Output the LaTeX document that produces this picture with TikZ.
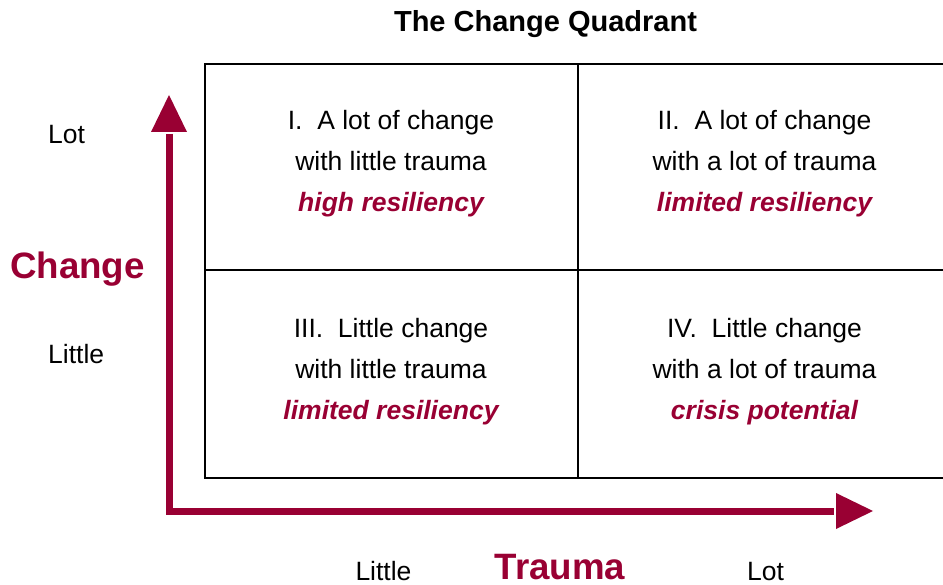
\documentclass[tikz,border=0pt]{standalone}
\usepackage{fontspec}
\setmainfont{Liberation Sans}
\definecolor{wine}{HTML}{990033}
\tikzset{
  grid/.style={line width=2.5pt, draw=black},
  axis/.style={line width=7pt, draw=wine, line join=miter},
  head/.style={fill=wine, draw=none},
  body/.style={font=\fontsize{26.5}{30}\selectfont, anchor=base, inner sep=0pt},
  verdict/.style={body, font=\fontsize{26.5}{30}\selectfont\bfseries\itshape, text=wine},
  title/.style={font=\fontsize{29}{34}\selectfont\bfseries, anchor=base, inner sep=0pt},
  axislabel/.style={font=\fontsize{36.7}{44}\selectfont\bfseries, text=wine, anchor=base, inner sep=0pt},
  level/.style={font=\fontsize{26.5}{30}\selectfont, anchor=base, inner sep=0pt}
}
\begin{document}
\begin{tikzpicture}[x=1pt,y=-1pt]
\clip (0,0) rectangle (943,585);

% quadrant grid (open to the right)
\draw[grid] (205,64) rectangle (955,478);
\draw[grid] (578,64) -- (578,478);
\draw[grid] (205,270) -- (955,270);

% axes
\coordinate (ytip) at (169,95);
\coordinate (origin) at (169,511);
\coordinate (xtip) at (873,511);
\draw[axis] (169,134) -- (origin) -- (834,511);
\fill[head] (ytip) -- (151,132) -- (187,132) -- cycle;
\fill[head] (xtip) -- (836,493) -- (836,529) -- cycle;

% title
\node[title] (ttl) at (545.5,31.5) {The Change Quadrant};

% quadrant I
\node[body] (q1a) at (391,129.5) {I.\ \ A lot of change};
\node[body] (q1b) at (391,170.5) {with little trauma};
\node[verdict] (q1c) at (391,211.5) {high resiliency};
% quadrant II
\node[body] (q2a) at (764.5,129.5) {II.\ \ A lot of change};
\node[body] (q2b) at (764.5,170.5) {with a lot of trauma};
\node[verdict] (q2c) at (764.5,211.5) {limited resiliency};
% quadrant III
\node[body] (q3a) at (391,337.5) {III.\ \ Little change};
\node[body] (q3b) at (391,378.5) {with little trauma};
\node[verdict] (q3c) at (391,419.5) {limited resiliency};
% quadrant IV
\node[body] (q4a) at (764.5,337.5) {IV.\ \ Little change};
\node[body] (q4b) at (764.5,378.5) {with a lot of trauma};
\node[verdict] (q4c) at (764.5,419.5) {crisis potential};

% vertical axis labels
\node[level, anchor=base west] (ylot) at (48,144) {Lot};
\node[level, anchor=base west] (ylittle) at (48,364) {Little};
\node[axislabel, anchor=base west] (ylab) at (10,279) {Change};

% horizontal axis labels
\node[level] (xlittle) at (383.5,580) {Little};
\node[axislabel] (xlab) at (560,579) {Trauma};
\node[level] (xlot) at (765.5,580) {Lot};
\end{tikzpicture}
\end{document}
